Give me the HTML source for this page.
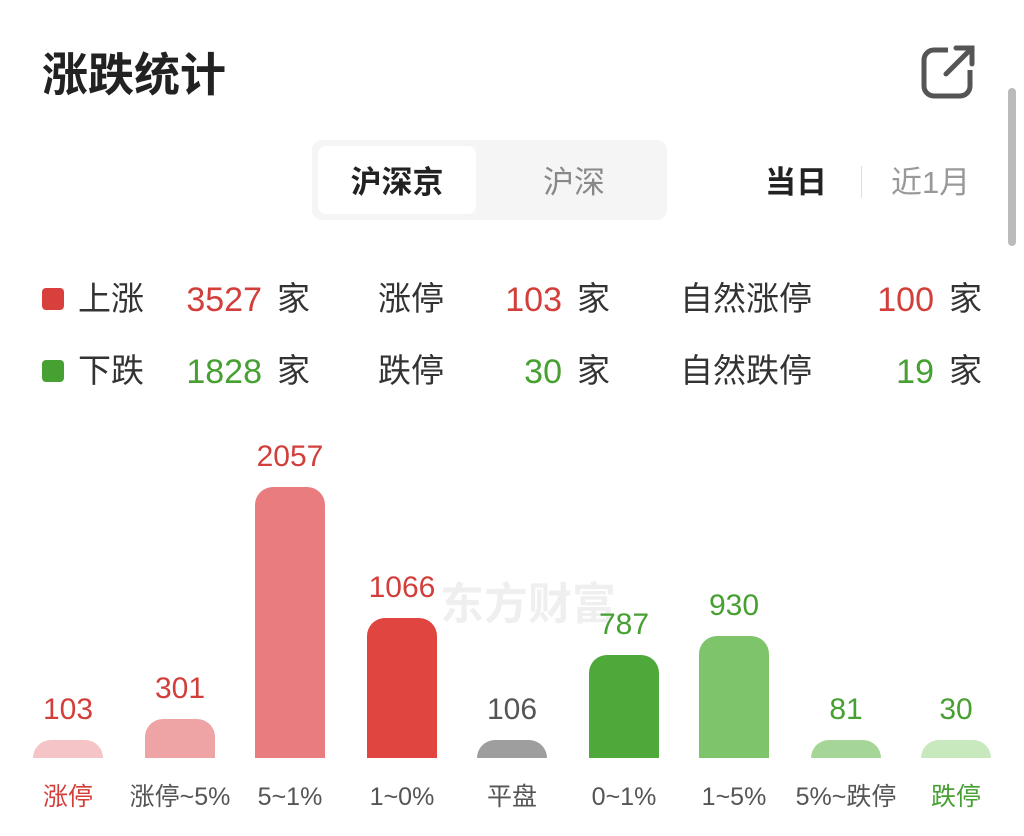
<!DOCTYPE html>
<html><head><meta charset="utf-8"><style>
body{margin:0;width:1024px;height:836px;background:#fff;position:relative;overflow:hidden;font-family:"Liberation Sans","Noto Sans CJK SC",sans-serif;}
.a{position:absolute;white-space:nowrap;line-height:40px;}
.st{font-size:33px;color:#333;}
.num{font-size:34px;text-align:right;width:120px;}
.bar{position:absolute;width:70px;border-radius:18px 18px 0 0;}
.v{position:absolute;width:110px;text-align:center;font-size:30px;line-height:36px;color:#555;}
.c{position:absolute;width:120px;text-align:center;font-size:25px;color:#555;top:779px;line-height:36px;}
.r{color:#d23f3b}.g{color:#46a032}
</style></head><body>
<div class="a" style="left:42px;top:50px;font-size:46px;line-height:50px;font-weight:bold;color:#222;">涨跌统计</div>
<svg class="a" style="left:920px;top:44px" width="58" height="56" viewBox="0 0 58 56"><rect x="4" y="6" width="46" height="46" rx="10" fill="none" stroke="#555" stroke-width="5"/><rect x="28" y="0" width="30" height="26" fill="#fff"/><path d="M26 30 L52 4 M36 4 H52 V20" fill="none" stroke="#555" stroke-width="5" stroke-linecap="round"/></svg>
<div class="a" style="left:1008px;top:88px;width:8px;height:158px;border-radius:4px;background:#bbb"></div>
<div class="a" style="left:312px;top:140px;width:355px;height:80px;border-radius:10px;background:#f5f5f5"></div>
<div class="a" style="left:318px;top:146px;width:158px;height:68px;border-radius:8px;background:#fff"></div>
<div class="a" style="left:318px;top:163px;width:158px;text-align:center;font-size:31px;font-weight:bold;color:#222">沪深京</div>
<div class="a" style="left:495px;top:163px;width:158px;text-align:center;font-size:31px;color:#888">沪深</div>
<div class="a" style="left:765px;top:163px;font-size:31px;font-weight:bold;color:#222">当日</div>
<div class="a" style="left:861px;top:166px;width:1px;height:32px;background:#ddd"></div>
<div class="a" style="left:891px;top:163px;font-size:31px;color:#999">近1月</div>

<div class="a" style="left:42px;top:288px;width:22px;height:22px;border-radius:4px;background:#d8403e"></div>
<div class="a st" style="left:78px;top:279px">上涨</div>
<div class="a num r" style="left:142px;top:280px">3527</div>
<div class="a st" style="left:277px;top:279px">家</div>
<div class="a st" style="left:378px;top:279px">涨停</div>
<div class="a num r" style="left:442px;top:280px">103</div>
<div class="a st" style="left:577px;top:279px">家</div>
<div class="a st" style="left:680px;top:279px">自然涨停</div>
<div class="a num r" style="left:814px;top:280px">100</div>
<div class="a st" style="left:949px;top:279px">家</div>

<div class="a" style="left:42px;top:360px;width:22px;height:22px;border-radius:4px;background:#46a032"></div>
<div class="a st" style="left:78px;top:351px">下跌</div>
<div class="a num g" style="left:142px;top:352px">1828</div>
<div class="a st" style="left:277px;top:351px">家</div>
<div class="a st" style="left:378px;top:351px">跌停</div>
<div class="a num g" style="left:442px;top:352px">30</div>
<div class="a st" style="left:577px;top:351px">家</div>
<div class="a st" style="left:680px;top:351px">自然跌停</div>
<div class="a num g" style="left:814px;top:352px">19</div>
<div class="a st" style="left:949px;top:351px">家</div>

<div class="a" style="left:440px;top:580px;font-size:44px;line-height:50px;font-weight:bold;color:#000;opacity:0.06">东方财富</div>

<div class="bar" style="left:33px;top:740px;height:18px;background:#f5c4c6"></div>
<div class="bar" style="left:145px;top:719px;height:39px;background:#eea3a5"></div>
<div class="bar" style="left:255px;top:487px;height:271px;background:#e87c7e"></div>
<div class="bar" style="left:367px;top:618px;height:140px;background:#e0453f"></div>
<div class="bar" style="left:477px;top:740px;height:18px;background:#9e9e9e"></div>
<div class="bar" style="left:589px;top:655px;height:103px;background:#4ea83a"></div>
<div class="bar" style="left:699px;top:636px;height:122px;background:#7dc46b"></div>
<div class="bar" style="left:811px;top:740px;height:18px;background:#a5d697"></div>
<div class="bar" style="left:921px;top:740px;height:18px;background:#c8e8be"></div>

<div class="v r" style="left:13px;top:692px">103</div>
<div class="v r" style="left:125px;top:671px">301</div>
<div class="v r" style="left:235px;top:439px">2057</div>
<div class="v r" style="left:347px;top:570px">1066</div>
<div class="v" style="left:457px;top:692px">106</div>
<div class="v g" style="left:569px;top:607px">787</div>
<div class="v g" style="left:679px;top:588px">930</div>
<div class="v g" style="left:791px;top:692px">81</div>
<div class="v g" style="left:901px;top:692px">30</div>

<div class="c r" style="left:8px">涨停</div>
<div class="c" style="left:120px">涨停~5%</div>
<div class="c" style="left:230px">5~1%</div>
<div class="c" style="left:342px">1~0%</div>
<div class="c" style="left:452px">平盘</div>
<div class="c" style="left:564px">0~1%</div>
<div class="c" style="left:674px">1~5%</div>
<div class="c" style="left:786px">5%~跌停</div>
<div class="c g" style="left:896px">跌停</div>
</body></html>
